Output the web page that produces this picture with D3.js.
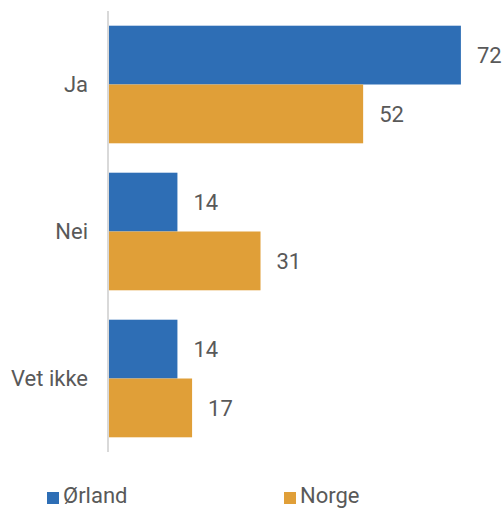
<!DOCTYPE html>
<html><head><meta charset="utf-8">
<script src="https://cdn.jsdelivr.net/npm/d3@7"></script>
<style>body{margin:0;background:#fff}svg{display:block}text{font-family:Roboto,"Liberation Sans",sans-serif;fill:#595959}</style>
</head><body>
<script>
const categories = ["Ja", "Nei", "Vet ikke"];
const seriesNames = ["Ørland", "Norge"];
const orland = [72, 14, 14];
const norge = [52, 31, 17];
const colors = ["#2E6EB5", "#E09F38"];

const W = 502, H = 509;
const FS = 22;
const svg = d3.select("body").append("svg").attr("width", W).attr("height", H);

const y = d3.scaleBand().domain(categories).range([11, 452]).paddingInner(0.2).paddingOuter(0.1);
const ys = d3.scaleBand().domain(seriesNames).range([0, y.bandwidth()]);
const x = d3.scaleLinear().domain([0, 80]).range([109, 500]);

const rows = categories.map((c, i) => ({cat: c, vals: [orland[i], norge[i]]}));

const g = svg.selectAll("g.cat").data(rows).join("g").attr("class", "cat")
  .attr("transform", d => `translate(0,${y(d.cat)})`);

g.selectAll("rect").data(d => d.vals.map((v, k) => ({v, k}))).join("rect")
  .attr("x", x(0)).attr("y", d => ys(seriesNames[d.k]))
  .attr("width", d => x(d.v) - x(0)).attr("height", ys.bandwidth())
  .attr("fill", d => colors[d.k]);

g.selectAll("text.val").data(d => d.vals.map((v, k) => ({v, k}))).join("text").attr("class", "val")
  .attr("x", d => x(d.v) + 16).attr("y", d => ys(seriesNames[d.k]) + ys.bandwidth() / 2)
  .attr("dy", "0.35em").attr("font-size", FS).text(d => d.v);

// axis
const axis = svg.append("g").attr("transform", `translate(108,0)`)
  .call(d3.axisLeft(y).tickSize(0).tickPadding(20));
axis.select(".domain").attr("stroke", "#d9d9d9").attr("stroke-width", 2)
  .attr("d", `M0,11V452`);
axis.selectAll(".tick text").attr("font-size", FS).attr("fill", "#595959")
  .attr("font-family", "Roboto, 'Liberation Sans', sans-serif");

// legend
const legendX = [47, 284];
const lg = svg.selectAll("g.leg").data(seriesNames).join("g").attr("class", "leg")
  .attr("transform", (d, i) => `translate(${legendX[i]},0)`);
lg.append("rect").attr("x", 0).attr("y", 492).attr("width", 12).attr("height", 12)
  .attr("fill", (d, i) => colors[i]);
lg.append("text").attr("x", 16).attr("y", 503).attr("font-size", FS).text(d => d);
</script>
</body></html>
